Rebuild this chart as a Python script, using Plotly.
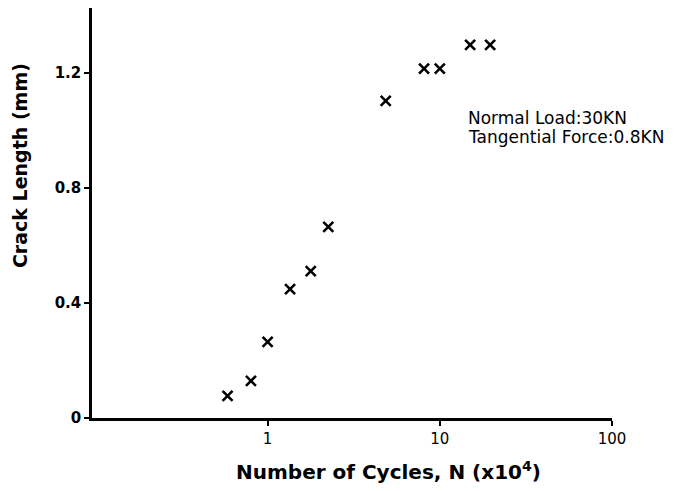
import plotly.graph_objects as go

cycles = [0.585, 0.80, 1.0, 1.35, 1.78, 2.25, 4.85, 8.1, 10.0, 15.0, 19.6]
crack_mm = [0.077, 0.129, 0.265, 0.448, 0.511, 0.665, 1.103, 1.215, 1.215, 1.298, 1.298]
x_ticks = [1, 10, 100]
x_tick_labels = ["1", "10", "100"]
y_ticks = [0, 0.4, 0.8, 1.2]
y_tick_labels = ["0", "0.4", "0.8", "1.2"]
note_lines = ["Normal Load:30KN", "Tangential Force:0.8KN"]
x_title = "<b>Number of Cycles, N (x10<sup>4</sup>)</b>"
y_title = "<b>Crack Length (mm)</b>"

fig = go.Figure()
fig.add_trace(go.Scatter(
    x=cycles, y=crack_mm, mode="markers",
    marker=dict(symbol="x-thin", size=10, line=dict(width=2.6, color="black"), color="black"),
    showlegend=False,
))

for i, line in enumerate(note_lines):
    fig.add_annotation(
        x=0.721, y=0.7317 - 0.0463 * i, xref="paper", yref="paper", xanchor="left", yanchor="middle",
        text=line, showarrow=False, align="left", borderpad=0,
        font=dict(family="DejaVu Sans", size=17, color="black"),
    )

fig.add_annotation(
    x=0.571, y=-0.129, xref="paper", yref="paper", xanchor="center", yanchor="middle",
    text=x_title, showarrow=False, font=dict(family="DejaVu Sans", size=20, color="black"),
)
fig.add_annotation(
    x=-0.138, y=0.615, xref="paper", yref="paper", xanchor="center", yanchor="middle",
    text=y_title, showarrow=False, textangle=-90,
    font=dict(family="DejaVu Sans", size=19, color="black"),
)

fig.update_layout(
    width=690, height=491,
    margin=dict(l=84, r=86, t=0, b=81),
    paper_bgcolor="white", plot_bgcolor="white",
    font=dict(family="DejaVu Sans", color="black"),
    xaxis=dict(
        type="log", range=[-1.02, 2.0], automargin=False,
        tickvals=x_ticks, ticktext=x_tick_labels,
        ticks="outside", ticklen=5, tickwidth=2, tickcolor="black",
        showline=True, linecolor="black", linewidth=2.5,
        showgrid=False, zeroline=False,
        tickfont=dict(size=15),
    ),
    yaxis=dict(
        range=[0, 1.426], automargin=False,
        tickvals=y_ticks, ticktext=["<b>%s</b>" % t for t in y_tick_labels],
        ticks="outside", ticklen=5, tickwidth=2, tickcolor="black",
        showline=True, linecolor="black", linewidth=2.5,
        showgrid=False, zeroline=False,
        tickfont=dict(size=15),
    ),
)

fig.write_html("out.html")
